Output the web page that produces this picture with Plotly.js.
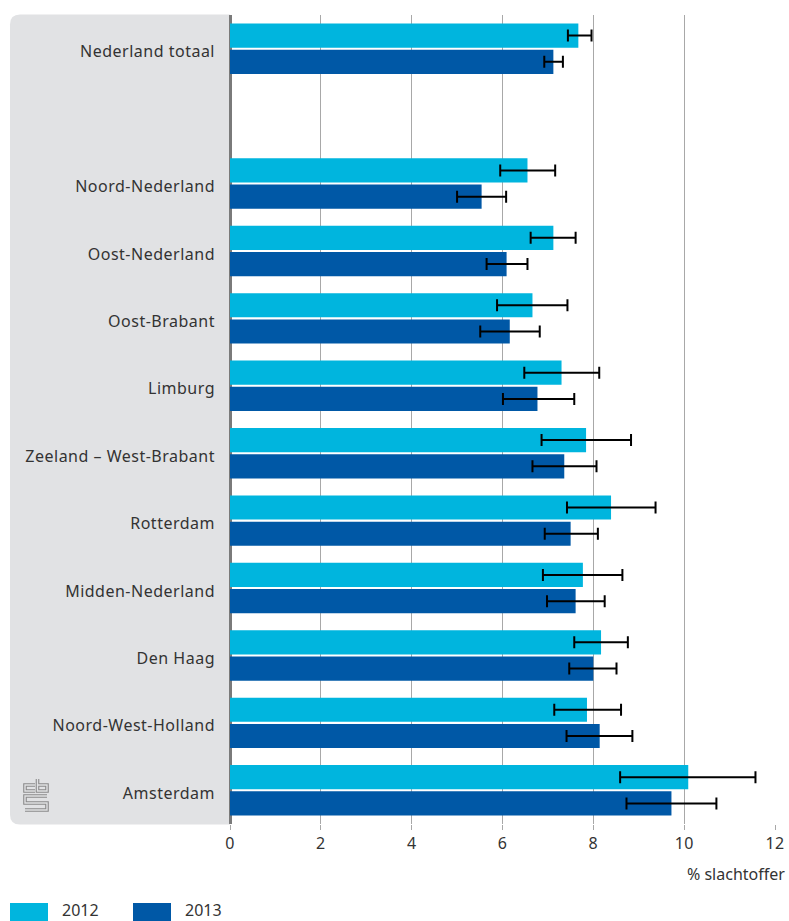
<!DOCTYPE html>
<html>
<head>
<meta charset="utf-8">
<script src="https://cdn.plot.ly/plotly-3.0.1.min.js"></script>
<style>
html,body{margin:0;padding:0;background:#fff;}
#chart{width:789px;height:921px;}
#chart .ytick text{letter-spacing:0.5px;}
#chart .xtick text{letter-spacing:0.3px;}
</style>
</head>
<body>
<div id="chart"></div>
<script>
// ---- data ----
var categories = ["Nederland totaal", " ", "Noord-Nederland", "Oost-Nederland", "Oost-Brabant", "Limburg",
  "Zeeland – West-Brabant", "Rotterdam", "Midden-Nederland", "Den Haag", "Noord-West-Holland", "Amsterdam"];
var seriesNames = ["2012", "2013"];
var values2012 = [7.67, null, 6.55, 7.12, 6.66, 7.30, 7.84, 8.39, 7.77, 8.17, 7.86, 10.09];
var low2012    = [7.44, null, 5.95, 6.62, 5.88, 6.48, 6.86, 7.42, 6.89, 7.58, 7.14, 8.59];
var high2012   = [7.96, null, 7.16, 7.61, 7.43, 8.13, 8.83, 9.37, 8.64, 8.76, 8.61, 11.57];
var values2013 = [7.12, null, 5.54, 6.09, 6.16, 6.77, 7.36, 7.50, 7.61, 8.00, 8.14, 9.72];
var low2013    = [6.92, null, 5.00, 5.65, 5.51, 6.01, 6.66, 6.93, 6.98, 7.47, 7.41, 8.73];
var high2013   = [7.33, null, 6.08, 6.55, 6.82, 7.58, 8.07, 8.10, 8.25, 8.51, 8.86, 10.71];
var xTicks = [0, 2, 4, 6, 8, 10, 12];
var xTitle = "% slachtoffer";
var colors = ["#00b5de", "#0058a6"];

function plus(v, hi) { return v.map(function (d, i) { return d == null ? null : hi[i] - d; }); }
function minus(v, lo) { return v.map(function (d, i) { return d == null ? null : d - lo[i]; }); }

var font = "Noto Sans, DejaVu Sans, sans-serif";
var textColor = "#333333";

function barTrace(name, vals, lo, hi, color) {
  return {
    type: "bar", orientation: "h", name: name,
    y: categories, x: vals,
    marker: { color: color, line: { width: 0 } },
    error_x: { type: "data", symmetric: false, array: plus(vals, hi), arrayminus: minus(vals, lo),
      color: "#000000", thickness: 2, width: 6 },
    hoverinfo: "x+y+name"
  };
}

var traces = [
  barTrace(seriesNames[0], values2012, low2012, high2012, colors[0]),
  barTrace(seriesNames[1], values2013, low2013, high2013, colors[1])
];

// plot area geometry (px) for paper conversions
var L = 230, R = 14, T = 15, B = 97, W = 789, H = 921;
var pw = W - L - R, ph = H - T - B;
function px(x) { return (x - L) / pw; }
function py(y) { return 1 - (y - T) / ph; }
function pathPx(pts) {
  return pts.map(function (p, i) { return (i ? "L" : "M") + px(p[0]) + "," + py(p[1]); }).join(" ");
}

var x0 = px(10), x1 = px(230), y1 = py(14.5), y0 = py(824.5);
var rx = 10 / pw, ry = 10 / ph;
var panelPath = "M" + x1 + "," + y1 + " H" + (x0 + rx) + " Q" + x0 + "," + y1 + " " + x0 + "," + (y1 - ry) +
  " V" + (y0 + ry) + " Q" + x0 + "," + y0 + " " + (x0 + rx) + "," + y0 + " H" + x1 + " Z";

// cbs logo (outlined strokes)
var logoParts = [
  [[35, 785], [25, 785], [25, 791], [35, 791]],
  [[37.5, 779], [37.5, 791], [47, 791], [47, 785], [37.5, 785]],
  [[47, 796], [25, 796], [25, 803], [47, 803], [47, 810], [25, 810]]
];

var shapes = [
  { type: "path", xref: "paper", yref: "paper", path: panelPath, fillcolor: "#e1e2e4", line: { width: 0 }, layer: "below" },
  { type: "rect", xref: "paper", yref: "paper", x0: px(10), x1: px(48), y0: py(925), y1: py(903), fillcolor: colors[0], line: { width: 0 } },
  { type: "rect", xref: "paper", yref: "paper", x0: px(133), x1: px(171), y0: py(925), y1: py(903), fillcolor: colors[1], line: { width: 0 } }
];
logoParts.forEach(function (pts) {
  shapes.push({ type: "path", xref: "paper", yref: "paper", path: pathPx(pts), line: { color: "#8a8a8a", width: 3.6 } });
});
logoParts.forEach(function (pts) {
  shapes.push({ type: "path", xref: "paper", yref: "paper", path: pathPx(pts), line: { color: "#e1e2e4", width: 1.4 } });
});

var annotations = [
  { xref: "paper", yref: "paper", x: px(787), y: py(874), xanchor: "right", yanchor: "middle", showarrow: false,
    text: xTitle, font: { family: font, size: 16, color: textColor } },
  { xref: "paper", yref: "paper", x: px(60), y: py(910), xanchor: "left", yanchor: "middle", showarrow: false,
    text: seriesNames[0], font: { family: font, size: 16, color: textColor } },
  { xref: "paper", yref: "paper", x: px(183), y: py(910), xanchor: "left", yanchor: "middle", showarrow: false,
    text: seriesNames[1], font: { family: font, size: 16, color: textColor } }
];

var layout = {
  width: W, height: H,
  margin: { l: L, r: R, t: T, b: B, pad: 0 },
  paper_bgcolor: "#ffffff", plot_bgcolor: "#ffffff",
  barmode: "group", bargap: 0.22, bargroupgap: 0.08,
  showlegend: false,
  font: { family: font, color: textColor },
  xaxis: {
    range: [0, 12], tickvals: xTicks, ticktext: xTicks.map(String),
    showgrid: true, gridcolor: "#a8a8a8", gridwidth: 1,
    zeroline: true, zerolinecolor: "#7a7a7a", zerolinewidth: 3,
    ticks: "outside", ticklen: 5, tickcolor: "#a8a8a8", tickwidth: 1,
    tickfont: { family: font, size: 16, color: textColor },
    showline: false, fixedrange: true
  },
  yaxis: {
    type: "category", categoryorder: "array", categoryarray: categories,
    autorange: "reversed", showgrid: false, zeroline: false, showline: false,
    ticks: "", ticklabelstandoff: 14, ticklabelshift: -3,
    tickfont: { family: font, size: 16, color: textColor },
    automargin: false, fixedrange: true
  },
  shapes: shapes,
  annotations: annotations
};

Plotly.newPlot("chart", traces, layout, { displayModeBar: false, staticPlot: true });
</script>
</body>
</html>
